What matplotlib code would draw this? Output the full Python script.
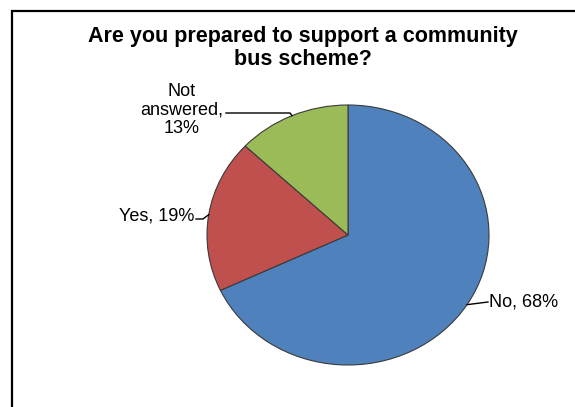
import numpy as np
import matplotlib.pyplot as plt
from matplotlib.patches import Rectangle

plt.rcParams['font.family'] = ['Liberation Sans', 'DejaVu Sans']

# survey answers
labels = ["No", "Yes", "Not answered"]
shares = [68, 19, 13]
label_text = ["No, 68%", "Yes, 19%", "Not\nanswered,\n13%"]
colors = ["#4F81BD", "#C0504D", "#9BBB59"]

W, H = 575, 407
fig = plt.figure(figsize=(W / 100, H / 100), dpi=100)

# chart frame (runs off the right and bottom edges)
fig.add_artist(Rectangle((12 / W, -0.1), 1.2, (H - 11) / H + 0.1,
                         transform=fig.transFigure, fill=False,
                         edgecolor="black", linewidth=1.6))

# pie is slightly wider than tall, so use a non-square axes with auto aspect
cx, cy, rx, ry = 348, 235, 141, 130
ax = fig.add_axes([(cx - rx) / W, (H - cy - ry) / H, 2 * rx / W, 2 * ry / H])
wedges, _ = ax.pie(shares, colors=colors, startangle=90, counterclock=False,
                   radius=1.0, wedgeprops=dict(edgecolor="#3a3a3a", linewidth=0.8))
ax.set_aspect("auto")
ax.set_xlim(-1, 1)
ax.set_ylim(-1, 1)


def px(x, y):
    # pixel position -> data coords of the pie axes
    return (x - cx) / rx, (cy - y) / ry


def edge(w):
    ang = np.deg2rad((w.theta1 + w.theta2) / 2)
    return np.cos(ang), np.sin(ang)


fs = 13
# No
ex, ey = edge(wedges[0])
tx, ty = px(488, 302)
ax.plot([ex, tx], [ey, ty], color="black", lw=1, clip_on=False)
ax.text(tx + 0.01, ty, label_text[0], ha="left", va="center", fontsize=fs)

# Yes
ex, ey = edge(wedges[1])
bx, by = px(203, 219)
tx, ty = px(196, 219)
ax.plot([ex, bx, tx], [ey, by, ty], color="black", lw=1, clip_on=False)
ax.text(tx - 0.01, ty + 0.02, label_text[1], ha="right", va="center", fontsize=fs)

# Not answered
ex, ey = edge(wedges[2])
bx, by = px(290, 113)
tx, ty = px(226, 113)
ax.plot([ex, bx, tx], [ey, by, ty], color="black", lw=1, clip_on=False)
lx, ly = px(182, 110)
ax.text(lx, ly, label_text[2], ha="center", va="center", fontsize=fs,
        linespacing=1.08)

fig.text(303 / W, 1 - 48 / H, "Are you prepared to support a community\nbus scheme?",
         ha="center", va="center", fontsize=15.5, fontweight="bold", linespacing=1.15)

fig.savefig("out.png", dpi=100)
